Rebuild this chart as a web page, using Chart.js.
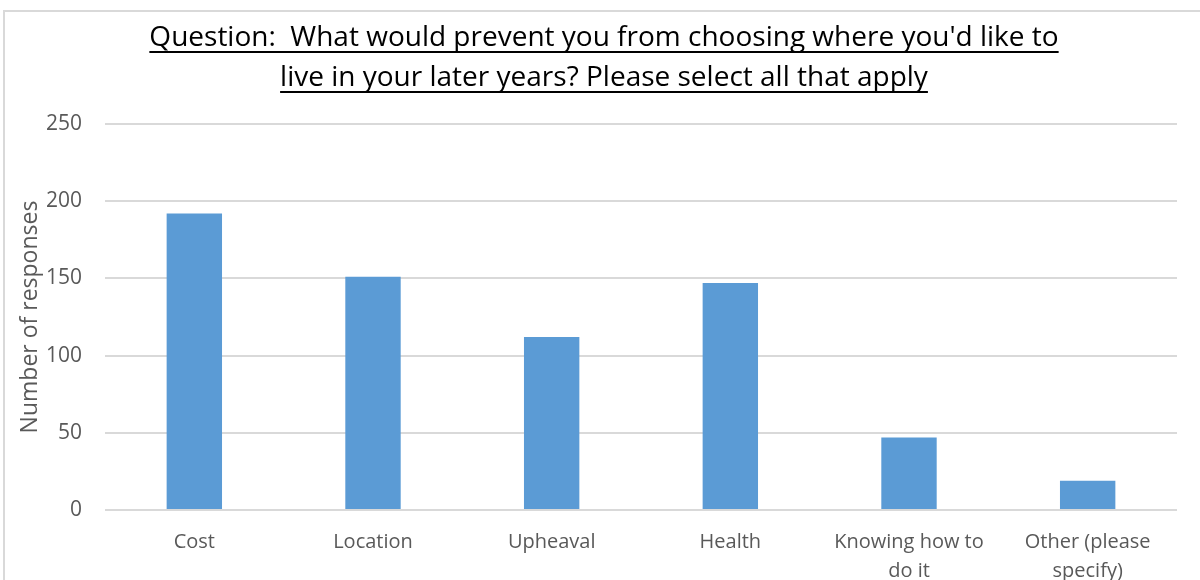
<!DOCTYPE html>
<html>
<head>
<meta charset="utf-8">
<script src="https://cdn.jsdelivr.net/npm/chart.js@4"></script>
<style>
  html, body { margin: 0; padding: 0; background: #fff; overflow: hidden; }
  #wrap { width: 1200px; height: 580px; position: relative; overflow: hidden; }
</style>
</head>
<body>
<div id="wrap"><canvas id="barChart" width="1200" height="600"></canvas></div>
<script>
const categories = ['Cost', 'Location', 'Upheaval', 'Health', ['Knowing how to', 'do it'], ['Other (please', 'specify)']];
const responses = [192, 151, 112, 147, 47, 19];
const titleLines = ["Question:  What would prevent you from choosing where you'd like to", 'live in your later years? Please select all that apply'];
const yTicks = [0, 50, 100, 150, 200, 250];

const FONT = "'Open Sans', sans-serif";

// frame + underlined two-line title
const decor = {
  id: 'decor',
  beforeDraw(chart) {
    const c = chart.ctx;
    c.save();
    c.strokeStyle = '#d9d9d9';
    c.lineWidth = 2;
    c.strokeRect(4, 11, 1300, 700);
    c.restore();
  },
  afterDraw(chart) {
    const c = chart.ctx;
    c.save();
    c.font = '28px ' + FONT;
    c.fillStyle = '#000';
    c.textAlign = 'center';
    c.textBaseline = 'alphabetic';
    const cx = 604;
    const bases = [46, 86];
    titleLines.forEach((t, i) => {
      c.fillText(t, cx, bases[i]);
      const w = c.measureText(t).width;
      c.fillRect(cx - w / 2, bases[i] + 5, w, 2);
    });
    c.restore();
  }
};

new Chart(document.getElementById('barChart').getContext('2d'), {
  type: 'bar',
  data: {
    labels: categories,
    datasets: [{
      label: 'Number of responses',
      data: responses,
      backgroundColor: '#5b9bd5',
      borderWidth: 0,
      categoryPercentage: 1,
      barPercentage: 0.31
    }]
  },
  options: {
    responsive: false,
    animation: false,
    layout: { padding: { left: 17, right: 23, top: 124, bottom: 0 } },
    plugins: {
      legend: { display: false },
      title: { display: false },
      tooltip: { enabled: false }
    },
    scales: {
      x: {
        afterFit(axis) { axis.height = 90; },
        grid: { display: false },
        border: { display: false },
        ticks: {
          color: '#595959',
          font: { family: FONT, size: 20, lineHeight: 1.45 },
          padding: 10,
          maxRotation: 0
        }
      },
      y: {
        min: 0,
        max: 250,
        afterFit(axis) { axis.width = 88; },
        afterBuildTicks(axis) { axis.ticks = yTicks.map(v => ({ value: v })); },
        grid: { color: '#d9d9d9', lineWidth: 2, drawTicks: false },
        border: { display: false },
        ticks: {
          color: '#595959',
          font: { family: FONT, size: 21 },
          padding: 23
        },
        title: {
          display: true,
          text: 'Number of responses',
          color: '#595959',
          font: { family: FONT, size: 23 },
          padding: 0
        }
      }
    }
  },
  plugins: [decor]
});
</script>
</body>
</html>
